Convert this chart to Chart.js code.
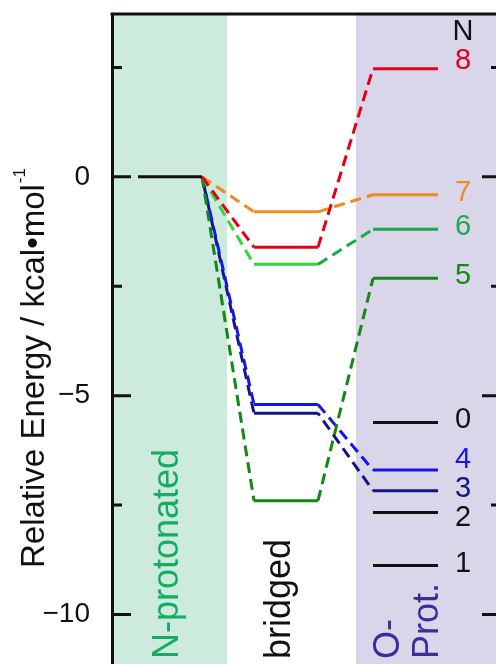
<!DOCTYPE html>
<html>
<head>
<meta charset="utf-8">
<title>Relative Energy</title>
<script src="https://cdn.jsdelivr.net/npm/chart.js@4.4.1/dist/chart.umd.min.js"></script>
<style>
    html, body { margin: 0; padding: 0; overflow: hidden; background: #fff; }
    #contenidor { width: 512px; height: 684px; }
</style>
</head>
<body>
<div id="contenidor"><canvas id="grafica-energia" width="512" height="684"></canvas></div>
<script>
// Dades (kcal/mol) llegides de la figura
const nProtEnergy = [0];
const bridgedLabels = ['8', '7', '6', '5', '4', '3'];
const bridgedEnergy = [-1.61, -0.80, -2.00, -7.40, -5.20, -5.40];
const oProtLabels = ['8', '7', '6', '5', '0', '4', '3', '2', '1'];
const oProtEnergy = [2.47, -0.41, -1.20, -2.32, -5.61, -6.70, -7.17, -7.67, -8.88];
const regionNames = ['N-protonated', 'bridged', 'O-', 'Prot.'];
const yTickValues = [-10, -7.5, -5, -2.5, 0, 2.5];
const yTickLabels = ['\u221210', '', '\u22125', '', '0', ''];

// Posicions horitzontals (unitats de l'eix x) i estils
const pos = { nStart: 26, nEnd: 90, bStart: 142, bEnd: 206, oStart: 261, oEnd: 326, label: 351 };
const bands = [
    { from: 0, to: 115, color: '#cdebdc' },
    { from: 244, to: 400, color: '#d9d6ea' }
];
const colors = {
    '8': '#e3001b', '7': '#ee8a1f', '6': '#1fa84a', '5': '#148714',
    '4': '#1515f0', '3': '#15157d', '0': '#111111', '1': '#111111', '2': '#111111'
};
const bridgedColors = { '6': '#33d63a' };
const dashOffsets = { '3': 8 };
const labelNudge = { '8': -6, '4': -8, '2': 7 };
const DASH = [11, 6];
const FONT = "'Liberation Sans', Arial, sans-serif";

const datasets = [];

// Nivell N-protonat
datasets.push({
    data: [{ x: pos.nStart, y: nProtEnergy[0] }, { x: pos.nEnd, y: nProtEnergy[0] }],
    borderColor: '#111111'
});

// Camins N-prot -> pont -> O-prot
bridgedLabels.forEach((lab, i) => {
    const eO = oProtEnergy[oProtLabels.indexOf(lab)];
    const cB = bridgedColors[lab] || colors[lab];
    const cO = colors[lab];
    datasets.push({
        data: [
            { x: pos.nEnd, y: nProtEnergy[0] },
            { x: pos.bStart, y: bridgedEnergy[i] },
            { x: pos.bEnd, y: bridgedEnergy[i] },
            { x: pos.oStart, y: eO },
            { x: pos.oEnd, y: eO }
        ],
        borderColor: cO,
        borderDashOffset: dashOffsets[lab] || 0,
        segment: {
            borderDash: ctx => (ctx.p0DataIndex % 2 === 0 ? DASH : []),
            borderColor: ctx => (ctx.p0DataIndex >= 2 ? cO : cB)
        }
    });
});

// Nivells O-protonats sense cami
oProtLabels.forEach((lab, i) => {
    if (bridgedLabels.includes(lab)) return;
    datasets.push({
        data: [{ x: pos.oStart, y: oProtEnergy[i] }, { x: pos.oEnd, y: oProtEnergy[i] }],
        borderColor: colors[lab]
    });
});

const decorPlugin = {
    id: 'decor',
    beforeDraw(chart) {
        const { ctx, chartArea: a, scales: { x } } = chart;
        ctx.save();
        ctx.fillStyle = '#fff';
        ctx.fillRect(0, 0, chart.width, chart.height);
        bands.forEach(b => {
            const x0 = x.getPixelForValue(b.from);
            const x1 = x.getPixelForValue(b.to);
            ctx.fillStyle = b.color;
            ctx.fillRect(x0, a.top, x1 - x0, a.bottom - a.top);
        });
        ctx.restore();
    },
    afterDraw(chart) {
        const { ctx, chartArea: a, scales: { x, y } } = chart;
        ctx.save();
        ctx.strokeStyle = '#111';
        ctx.lineWidth = 3;

        // marc superior i eix dret
        ctx.beginPath();
        ctx.moveTo(a.left - 1.5, a.top);
        ctx.lineTo(a.right, a.top);
        ctx.lineTo(a.right, a.bottom);
        ctx.stroke();

        // marques cap a dins
        yTickValues.forEach((v, i) => {
            const py = y.getPixelForValue(v);
            const len = yTickLabels[i] ? 19 : 10;
            ctx.beginPath();
            ctx.moveTo(a.left, py);
            ctx.lineTo(a.left + len, py);
            ctx.moveTo(a.right, py);
            ctx.lineTo(a.right - len, py);
            ctx.stroke();
        });

        // etiquetes N
        const lx = x.getPixelForValue(pos.label);
        ctx.textAlign = 'center';
        ctx.textBaseline = 'middle';
        ctx.font = '29px ' + FONT;
        ctx.fillStyle = '#111';
        ctx.fillText('N', lx, 32);
        oProtLabels.forEach((lab, i) => {
            ctx.fillStyle = colors[lab];
            ctx.fillText(lab, lx, y.getPixelForValue(oProtEnergy[i]) - 2 + (labelNudge[lab] || 0));
        });

        // noms de les regions, en vertical
        const regionText = [
            { text: regionNames[0], x: 66, color: '#14ad62' },
            { text: regionNames[1], x: 178, color: '#111111' },
            { text: regionNames[2], x: 287, color: '#3a2d9c' },
            { text: regionNames[3], x: 326, color: '#3a2d9c' }
        ];
        ctx.font = '36px ' + FONT;
        ctx.textAlign = 'left';
        ctx.textBaseline = 'alphabetic';
        regionText.forEach(r => {
            ctx.save();
            ctx.translate(x.getPixelForValue(r.x), 659);
            ctx.rotate(-Math.PI / 2);
            ctx.fillStyle = r.color;
            ctx.fillText(r.text, 0, 0);
            ctx.restore();
        });

        // titol de l'eix y amb superindex
        ctx.save();
        ctx.translate(44, 568);
        ctx.rotate(-Math.PI / 2);
        ctx.fillStyle = '#111';
        ctx.font = '33px ' + FONT;
        const mainTitle = 'Relative Energy / kcal\u2022mol';
        ctx.fillText(mainTitle, 0, 0);
        const w = ctx.measureText(mainTitle).width;
        ctx.font = '17px ' + FONT;
        ctx.fillText('-1', w + 1, -19);
        ctx.restore();

        ctx.restore();
    }
};

new Chart(document.getElementById('grafica-energia').getContext('2d'), {
    type: 'line',
    data: { datasets: datasets },
    options: {
        responsive: false,
        devicePixelRatio: 1,
        animation: false,
        layout: { padding: { left: 0, top: 14, right: 11, bottom: 6 } },
        elements: {
            point: { radius: 0, hoverRadius: 0 },
            line: { borderWidth: 3, tension: 0, fill: false, borderCapStyle: 'butt' }
        },
        plugins: { legend: { display: false }, tooltip: { enabled: false } },
        scales: {
            x: { type: 'linear', min: 0, max: 389, display: false },
            y: {
                type: 'linear',
                min: -11.45,
                max: 3.72,
                afterBuildTicks: s => { s.ticks = yTickValues.map(v => ({ value: v })); },
                afterFit: s => { s.width = 112; s.paddingTop = 0; s.paddingBottom = 0; },
                grid: { display: false, drawTicks: false },
                border: { display: true, color: '#111', width: 3 },
                ticks: {
                    padding: 22,
                    color: '#111',
                    font: { family: FONT, size: 28 },
                    callback: (v, i) => yTickLabels[i]
                }
            }
        }
    },
    plugins: [decorPlugin]
});
</script>
</body>
</html>
